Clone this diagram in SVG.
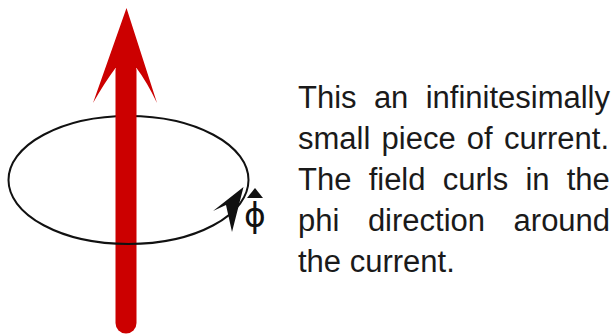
<svg xmlns="http://www.w3.org/2000/svg" width="614" height="334" viewBox="0 0 614 334">
<style>
.t{font-family:"Liberation Sans",Arial,sans-serif;font-size:31px;fill:#1a1a1a}
.loop{fill:none;stroke:#111;stroke-width:2}
</style>
<rect width="614" height="334" fill="#fff"/>
<g id="loop-back">
<path class="loop" d="M8.5,180 A120,64 0 0 1 248.5,180"/>
</g>
<g id="current">
<line x1="126" y1="70" x2="126" y2="323" stroke="#cc0000" stroke-width="21" stroke-linecap="round"/>
<path d="M126.5,8 L157,103 Q147,82 136.5,68 L115.5,68 Q105,82 93,103 Z" fill="#cc0000"/>
</g>
<g id="loop-front">
<path class="loop" d="M248.5,180 A120,64 0 0 1 8.5,180"/>
<path d="M243.5,187 L213,211 L226,205 L232,232 Z" fill="#111"/>
</g>
<g id="phi-hat">
<path d="M247,198 L255,188 L263,198 Z" fill="#111"/>
<text x="255" y="227" text-anchor="middle" style="font-family:'DejaVu Sans',sans-serif;font-size:33px;fill:#111">ϕ</text>
</g>
<g id="caption">
<text class="t" x="298" y="108" style="word-spacing:8.7px">This an infinitesimally</text>
<text class="t" x="298" y="149" style="word-spacing:2.6px">small piece of current.</text>
<text class="t" x="298" y="190" style="word-spacing:8.6px">The field curls in the</text>
<text class="t" x="298" y="231" style="word-spacing:19.9px">phi direction around</text>
<text class="t" x="298" y="272">the current.</text>
</g>
</svg>
